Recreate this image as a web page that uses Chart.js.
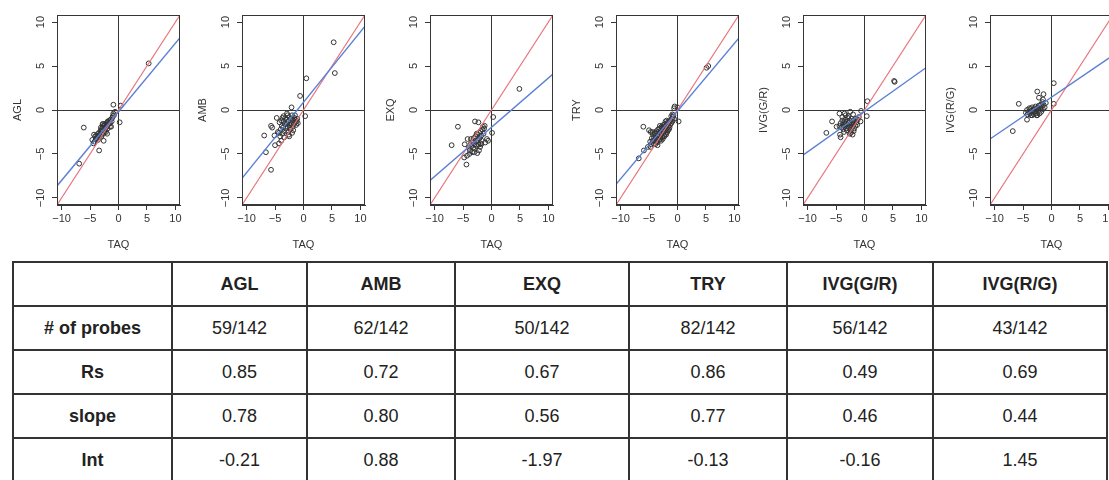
<!DOCTYPE html>
<html>
<head>
<meta charset="utf-8">
<script src="https://cdn.jsdelivr.net/npm/chart.js@4.4.1/dist/chart.umd.min.js"></script>
<style>
  html, body { margin: 0; padding: 0; background: #fff; }
  body { width: 1109px; height: 480px; overflow: hidden; position: relative;
         font-family: "Liberation Sans", Arial, sans-serif; }
  .plot { position: absolute; top: 0; }
  table { position: absolute; left: 12px; top: 261px; border-collapse: collapse;
          table-layout: fixed; color: #222; font-size: 18px; }
  td { border: 2px solid #333; text-align: center; padding: 0; }
  tr { height: 44px; }
  .b { font-weight: bold; }
</style>
</head>
<body>
<canvas class="plot" id="p0" width="185" height="260"></canvas>
<canvas class="plot" id="p1" width="185" height="260"></canvas>
<canvas class="plot" id="p2" width="185" height="260"></canvas>
<canvas class="plot" id="p3" width="185" height="260"></canvas>
<canvas class="plot" id="p4" width="185" height="260"></canvas>
<canvas class="plot" id="p5" width="185" height="260"></canvas>
<table id="stats"></table>
<script>
// --- data ---
const categories = ["AGL", "AMB", "EXQ", "TRY", "IVG(G/R)", "IVG(R/G)"];
const probes = ["59/142", "62/142", "50/142", "82/142", "56/142", "43/142"];
const rs = ["0.85", "0.72", "0.67", "0.86", "0.49", "0.69"];
const slopes = [0.78, 0.80, 0.56, 0.77, 0.46, 0.44];
const intercepts = [-0.21, 0.88, -1.97, -0.13, -0.16, 1.45];
const tickValues = [-10, -5, 0, 5, 10];
const xTitle = "TAQ";

const aglPoints = [[5.3,5.3],[-6.9,-6.1],[-6.1,-2.0],[-3.4,-4.6],[-0.9,0.6],[0.4,0.5],[0.2,-1.4],
  [-4.3,-2.8],[-3.6,-2.7],[-2.6,-3.5],[-2.0,-2.7],[-1.3,-1.9],[-0.6,-0.2],[-3.0,-3.0],[-2.8,-1.6],
  [-4.4,-3.8],[-4.6,-3.4],[-4.2,-3.6],[-4.0,-3.3],[-3.8,-3.2],[-3.7,-3.0],[-3.5,-3.1],[-3.4,-2.6],
  [-3.3,-2.9],[-3.2,-2.4],[-3.1,-2.7],[-3.0,-2.2],[-2.9,-2.5],[-2.8,-2.0],[-2.7,-2.3],[-2.6,-1.8],
  [-2.5,-2.1],[-2.4,-2.4],[-2.3,-1.7],[-2.2,-2.0],[-2.1,-1.5],[-2.0,-1.8],[-1.9,-2.1],[-1.8,-1.4],
  [-1.7,-1.6],[-1.6,-1.2],[-1.5,-1.5],[-1.4,-1.1],[-1.2,-1.3],[-1.1,-0.9],[-1.0,-0.7],[-0.8,-0.6],
  [-2.6,-2.6],[-3.6,-3.4],[-2.9,-2.8],[-3.9,-2.9],[-2.4,-1.6],[-1.9,-1.3],[-3.1,-2.0],[-2.2,-2.5],
  [-1.5,-1.9],[-2.7,-1.6],[-4.1,-3.0],[-0.9,-0.4]];
const ambPoints = [[5.3,7.7],[5.5,4.2],[0.5,3.6],[-0.6,1.6],[0.3,-0.7],[-2.1,0.3],[-6.9,-2.9],
  [-6.6,-4.8],[-5.7,-6.8],[-5.7,-1.8],[-5.5,-2.0],[-5.1,-2.9],[-5.0,-4.0],[-4.3,-3.8],[-3.9,-3.5],
  [-2.5,-3.0],[-4.7,-0.9],[-3.7,-0.9],[-3.5,-0.7],[-2.8,-0.6],
  [-4.5,-2.5],[-4.3,-2.6],[-4.2,-1.4],[-4.0,-2.2],[-3.9,-1.2],[-3.8,-1.8],[-3.6,-2.0],[-3.5,-1.3],
  [-3.4,-2.4],[-3.3,-1.6],[-3.2,-0.9],[-3.1,-2.1],[-3.0,-1.5],[-2.9,-1.1],[-2.8,-1.9],[-2.7,-2.5],
  [-2.6,-1.3],[-2.5,-0.8],[-2.4,-1.7],[-2.3,-2.2],[-2.2,-1.0],[-2.1,-1.5],[-2.0,-0.6],[-1.9,-1.9],
  [-1.8,-1.2],[-1.7,-1.6],[-1.6,-0.9],[-1.5,-1.4],[-1.4,-1.1],[-1.3,-1.7],[-1.2,-1.3],[-1.0,-1.5],
  [-2.6,-2.8],[-3.7,-2.7],[-4.1,-3.0],[-1.1,-1.0],[-2.9,-0.4],[-1.8,-2.3],[-3.4,-3.1],[-2.4,-2.0],
  [-1.5,-0.6],[-2.0,-2.6]];
const exqPoints = [[4.9,2.4],[0.3,-0.8],[0.1,-2.6],[-0.6,-3.5],[-0.8,-3.3],[-5.9,-1.9],[-7.0,-4.0],
  [-2.9,-1.3],[-2.3,-1.4],[-4.4,-6.2],[-4.2,-3.3],[-4.7,-3.9],[-4.8,-5.4],[-4.3,-5.2],[-3.0,-4.8],
  [-2.5,-4.9],[-1.5,-1.9],[-1.2,-1.8],[-1.8,-3.9],[-1.1,-3.7],
  [-4.0,-4.3],[-3.8,-4.6],[-3.7,-3.9],[-3.5,-4.1],[-3.4,-4.8],[-3.3,-3.6],[-3.2,-4.3],[-3.1,-3.2],
  [-3.0,-3.9],[-2.9,-4.4],[-2.8,-3.0],[-2.7,-3.6],[-2.6,-4.1],[-2.5,-2.8],[-2.4,-3.4],[-2.3,-3.9],
  [-2.2,-2.6],[-2.1,-3.2],[-2.0,-4.2],[-1.9,-2.4],[-1.8,-2.9],[-1.7,-3.5],[-1.6,-2.2],[-1.4,-2.7],
  [-1.3,-2.1],[-2.6,-2.7],[-3.6,-3.3],[-1.9,-3.8],[-3.9,-5.0],[-2.2,-4.6]];
const tryPoints = [[5.4,5.0],[5.1,4.8],[0.2,-1.3],[-0.6,0.2],[-0.5,0.4],[0.0,0.3],[-6.0,-1.9],
  [-6.8,-5.5],[-5.9,-4.6],[-5.2,-4.2],[-5.0,-2.3],[-4.7,-2.5],
  [-4.8,-3.6],[-4.6,-3.9],[-4.5,-3.2],[-4.4,-3.5],[-4.3,-2.8],[-4.2,-3.8],[-4.1,-3.1],[-4.0,-3.4],
  [-3.9,-2.7],[-3.8,-3.2],[-3.7,-3.6],[-3.6,-2.9],[-3.5,-3.3],[-3.4,-2.5],[-3.3,-3.0],[-3.2,-3.4],
  [-3.1,-2.6],[-3.0,-2.9],[-2.9,-2.3],[-2.8,-2.7],[-2.7,-3.1],[-2.6,-2.2],[-2.5,-2.5],[-2.4,-2.9],
  [-2.3,-2.0],[-2.2,-2.4],[-2.1,-2.7],[-2.0,-1.8],[-1.9,-2.1],[-1.8,-2.5],[-1.7,-1.6],[-1.6,-1.9],
  [-1.5,-2.2],[-1.4,-1.4],[-1.3,-1.7],[-1.2,-1.2],[-1.1,-1.5],[-1.0,-1.0],[-0.9,-1.3],[-0.8,-0.8],
  [-0.7,-0.6],[-0.6,-1.0],[-3.6,-3.7],[-3.0,-3.3],[-2.4,-1.9],[-1.8,-1.5],[-4.0,-2.6],[-3.4,-2.2],
  [-2.8,-1.9],[-2.2,-1.6],[-1.6,-1.3],[-4.7,-4.2],[-3.9,-3.9],[-3.2,-2.1],[-2.6,-3.3],[-2.0,-2.8],
  [-1.4,-2.0],[-1.1,-0.7],[-2.9,-3.5],[-2.3,-3.0],[-3.7,-2.4],[-4.4,-2.5],[-1.7,-2.3],[-2.5,-1.7],
  [-3.1,-1.8],[-0.9,-0.5],[-1.9,-1.2],[-3.5,-4.0],[-2.1,-1.3],[-2.7,-2.0]];
const ivgGRPoints = [[5.3,3.2],[5.2,3.3],[0.5,1.0],[0.4,-0.7],[-0.6,-0.1],[-5.7,-1.3],[-6.7,-2.6],
  [-4.4,-0.4],[-3.5,-0.4],[-2.5,-0.2],[-4.3,-2.8],[-4.2,-3.1],[-2.1,-2.8],[-0.7,-1.3],[-3.1,-2.3],
  [-4.9,-1.9],
  [-4.2,-1.5],[-4.0,-2.0],[-3.9,-1.2],[-3.8,-1.7],[-3.7,-2.2],[-3.6,-1.4],[-3.5,-1.9],[-3.4,-1.1],
  [-3.3,-1.6],[-3.2,-2.1],[-3.1,-1.3],[-3.0,-1.8],[-2.9,-0.9],[-2.8,-1.5],[-2.7,-2.0],[-2.6,-1.2],
  [-2.5,-1.7],[-2.4,-2.3],[-2.3,-1.0],[-2.2,-1.5],[-2.1,-1.9],[-2.0,-1.2],[-1.9,-1.6],[-1.8,-2.1],
  [-1.7,-1.3],[-1.6,-1.8],[-1.5,-1.0],[-1.4,-1.4],[-1.2,-1.1],[-1.0,-0.8],[-3.3,-0.6],[-2.8,-0.7],
  [-4.4,-1.8],[-2.4,-2.6],[-1.9,-2.4],[-3.6,-2.5],[-2.0,-0.5],[-1.3,-1.7],[-2.6,-2.7],[-3.9,-0.8]];
const ivgRGPoints = [[0.4,3.05],[0.4,0.7],[-5.75,0.7],[-6.8,-2.4],[-2.5,2.1],[-1.4,1.8],[-2.2,1.4],
  [-4.3,-1.1],[-1.5,1.2],
  [-4.5,-0.3],[-4.3,0.0],[-4.2,-0.5],[-4.0,-0.2],[-3.9,0.2],[-3.8,-0.4],[-3.7,0.1],[-3.6,-0.6],
  [-3.5,-0.1],[-3.4,0.3],[-3.3,-0.3],[-3.2,0.0],[-3.1,-0.5],[-3.0,0.2],[-2.9,-0.2],[-2.8,0.4],
  [-2.7,-0.4],[-2.6,0.1],[-2.5,-0.6],[-2.4,0.3],[-2.3,-0.1],[-2.2,0.5],[-2.1,-0.4],[-2.0,0.2],
  [-1.9,0.6],[-1.8,-0.2],[-1.7,0.4],[-1.6,0.9],[-1.5,0.1],[-1.4,0.6],[-1.2,0.3],[-1.0,0.8],
  [-2.6,-0.6],[-3.4,-0.6]];
const allPoints = [aglPoints, ambPoints, exqPoints, tryPoints, ivgGRPoints, ivgRGPoints];

// --- layout ---
const frameLefts = [57, 242, 430, 616, 803, 990];
const axisMin = -10.8, axisMax = 10.8;
const ink = "#363636";
const fontFam = "'Liberation Sans', Arial, sans-serif";

// R style box round the plot area
const frameBox = {
  id: "frameBox",
  afterDatasetsDraw(chart) {
    const { ctx, chartArea: a } = chart;
    ctx.save();
    ctx.strokeStyle = ink;
    ctx.lineWidth = 1;
    ctx.strokeRect(Math.round(a.left) + 0.5, Math.round(a.top) + 0.5,
      Math.round(a.right - a.left) - 1, Math.round(a.bottom - a.top) - 1);
    ctx.restore();
  }
};

function axis(title, isY) {
  return {
    type: "linear",
    min: axisMin,
    max: axisMax,
    afterBuildTicks: s => { s.ticks = tickValues.map(v => ({ value: v })); },
    afterFit: s => { if (isY) s.width = 57; else s.height = 55; },
    grid: {
      color: c => (c.tick && c.tick.value === 0 ? ink : "rgba(0,0,0,0)"),
      tickColor: ink,
      tickLength: 5,
      lineWidth: 1
    },
    border: { color: ink, width: 1 },
    ticks: {
      color: "#333",
      font: { family: fontFam, size: 11 },
      padding: 2,
      minRotation: isY ? 90 : 0,
      maxRotation: isY ? 90 : 0,
      crossAlign: isY ? "center" : "near",
      callback: v => String(v).replace("-", "\u2212")
    },
    title: {
      display: true,
      text: title,
      color: "#333",
      font: { family: fontFam, size: 11 },
      padding: isY ? { top: 11, bottom: 0 } : { top: 0, bottom: 8 }
    }
  };
}

categories.forEach((name, i) => {
  const canvas = document.getElementById("p" + i);
  canvas.style.left = (frameLefts[i] - 57) + "px";
  const ends = [axisMin, axisMax];
  new Chart(canvas.getContext("2d"), {
    type: "scatter",
    data: {
      datasets: [
        {
          type: "line",
          data: ends.map(x => ({ x, y: slopes[i] * x + intercepts[i] })),
          borderColor: "#5b80d4",
          borderWidth: 1.4,
          pointRadius: 0,
          order: 0
        },
        {
          type: "line",
          data: ends.map(x => ({ x, y: x })),
          borderColor: "#e8747a",
          borderWidth: 1.2,
          pointRadius: 0,
          order: 1
        },
        {
          data: allPoints[i].map(([x, y]) => ({ x, y })),
          pointRadius: 2.4,
          pointBorderWidth: 1,
          pointBorderColor: "#333",
          pointBackgroundColor: "rgba(0,0,0,0)",
          order: 2
        }
      ]
    },
    options: {
      responsive: false,
      animation: false,
      layout: { padding: { left: 0, top: 15, right: 2, bottom: 0 } },
      plugins: { legend: { display: false }, tooltip: { enabled: false } },
      scales: { x: axis(xTitle, false), y: axis(name, true) }
    },
    plugins: [frameBox]
  });
});

// --- stats table ---
const colWidths = [159, 135, 148, 174, 158, 146, 174];
const rows = [["", ...categories], ["# of probes", ...probes], ["Rs", ...rs],
  ["slope", ...slopes.map(v => v.toFixed(2))], ["Int", ...intercepts.map(v => v.toFixed(2))]];
const table = document.getElementById("stats");
const cg = document.createElement("colgroup");
colWidths.forEach(w => { const c = document.createElement("col"); c.style.width = w + "px"; cg.appendChild(c); });
table.appendChild(cg);
rows.forEach((r, ri) => {
  const tr = document.createElement("tr");
  r.forEach((cell, ci) => {
    const td = document.createElement("td");
    td.textContent = cell;
    if (ri === 0 || ci === 0) td.className = "b";
    tr.appendChild(td);
  });
  table.appendChild(tr);
});
</script>
</body>
</html>
